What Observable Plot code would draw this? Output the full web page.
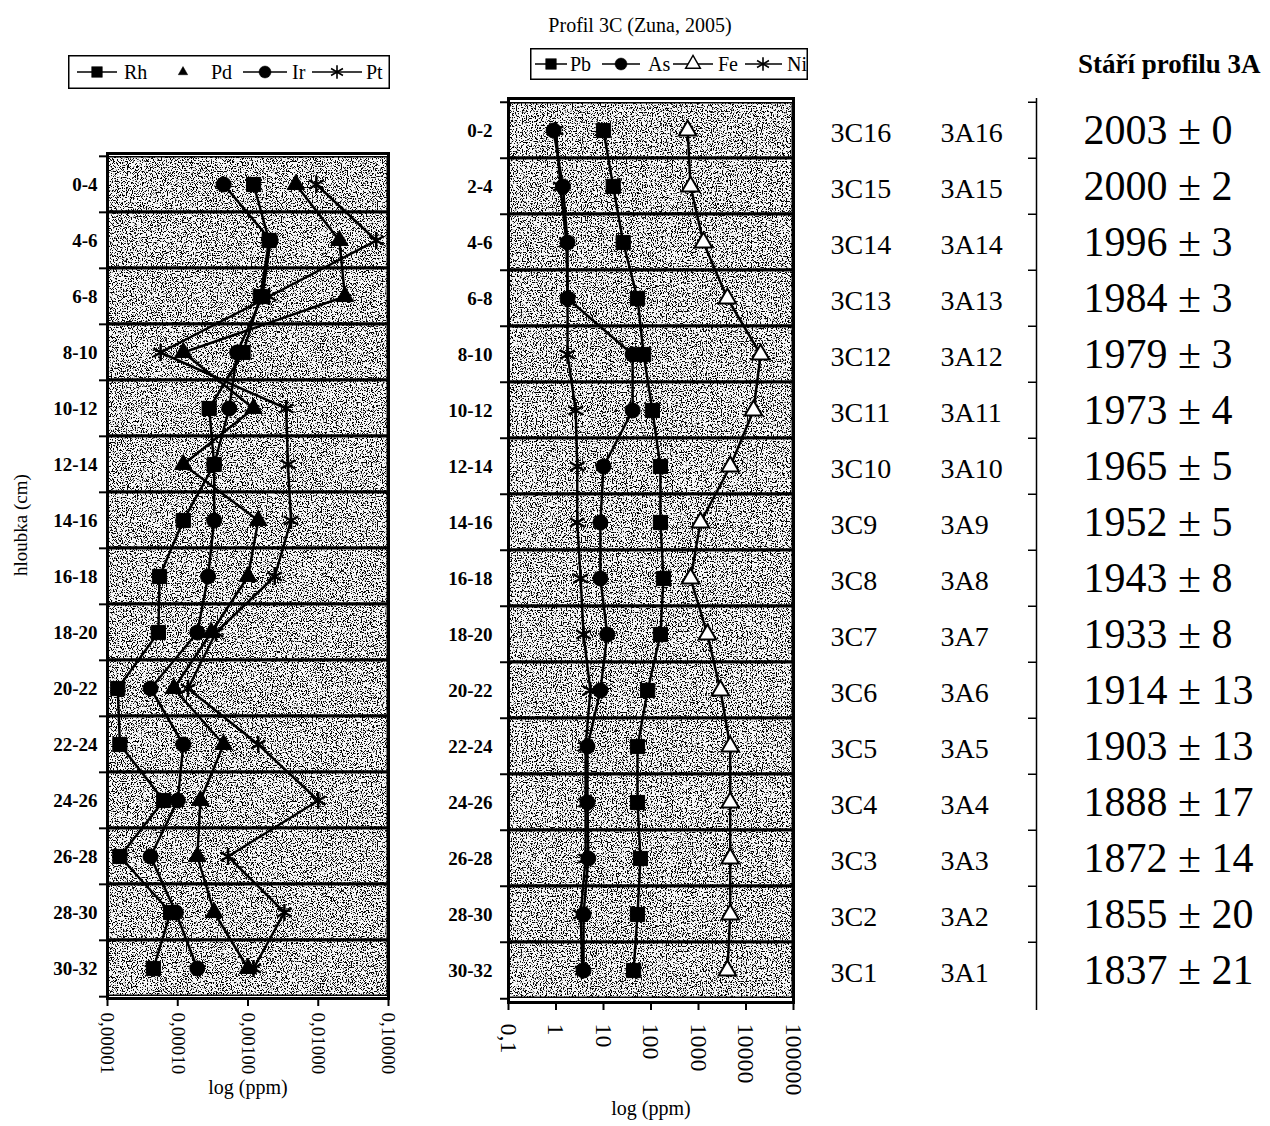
<!DOCTYPE html>
<html><head><meta charset="utf-8">
<script src="https://cdn.jsdelivr.net/npm/d3@7"></script>
<script src="https://cdn.jsdelivr.net/npm/@observablehq/plot@0.6"></script>
<style>
body{margin:0;background:#fff;}
#wrap{position:relative;width:1270px;height:1126px;font-family:"Liberation Serif","Times New Roman",serif;color:#000;overflow:hidden;background:#fff}
</style></head><body><div id="wrap"></div>
<script>
// ---------- data ----------
const depthsLeft = ["0-4","4-6","6-8","8-10","10-12","12-14","14-16","16-18","18-20","20-22","22-24","24-26","26-28","28-30","30-32"];
const seriesLeft = ["Rh","Pd","Ir","Pt"];
const Rh = [1.2e-3, 2.0e-3, 1.5e-3, 8.5e-4, 2.8e-4, 3.3e-4, 1.2e-4, 5.5e-5, 5.3e-5, 1.4e-5, 1.5e-5, 6.3e-5, 1.5e-5, 7.9e-5, 4.5e-5];
const Pd = [4.8e-3, 2.0e-2, 2.4e-2, 1.2e-4, 1.2e-3, 1.2e-4, 1.4e-3, 1.0e-3, 3.0e-4, 8.8e-5, 4.5e-4, 2.1e-4, 1.9e-4, 3.3e-4, 1.0e-3];
const Ir = [4.5e-4, 2.1e-3, 1.6e-3, 7.0e-4, 5.4e-4, 3.3e-4, 3.3e-4, 2.7e-4, 1.9e-4, 4.1e-5, 1.2e-4, 1.0e-4, 4.1e-5, 9.4e-5, 1.9e-4];
const Pt = [9.4e-3, 6.7e-2, 2.0e-3, 5.7e-5, 3.5e-3, 3.7e-3, 4.1e-3, 2.4e-3, 3.5e-4, 1.4e-4, 1.4e-3, 1.0e-2, 5.2e-4, 3.3e-3, 1.2e-3];
const leftTicks = [0.00001, 0.0001, 0.001, 0.01, 0.1];
const leftTickLabels = ["0,00001","0,00010","0,00100","0,01000","0,10000"];

const depthsRight = ["0-2","2-4","4-6","6-8","8-10","10-12","12-14","14-16","16-18","18-20","20-22","22-24","24-26","26-28","28-30","30-32"];
const seriesRight = ["Pb","As","Fe","Ni"];
const Pb = [10, 16, 26, 52, 70, 107, 158, 158, 183, 158, 85, 52, 52, 60, 52, 43];
const As = [0.89, 1.4, 1.75, 1.75, 41, 41, 10, 8.6, 8.6, 12, 8.6, 4.6, 4.6, 4.8, 3.8, 3.8];
const Fe = [590, 680, 1270, 4060, 20300, 14400, 4650, 1100, 680, 1540, 2900, 4650, 4650, 4650, 4650, 4060];
const Ni = [1.0, 1.24, 1.66, 1.75, 1.75, 2.6, 2.8, 2.8, 3.3, 3.8, 5.3, 4.2, 4.2, 4.2, 3.3, 3.6];
const rightTicks = [0.1, 1, 10, 100, 1000, 10000, 100000];
const rightTickLabels = ["0,1","1","10","100","1000","10000","100000"];

const samplesC = ["3C16","3C15","3C14","3C13","3C12","3C11","3C10","3C9","3C8","3C7","3C6","3C5","3C4","3C3","3C2","3C1"];
const samplesA = ["3A16","3A15","3A14","3A13","3A12","3A11","3A10","3A9","3A8","3A7","3A6","3A5","3A4","3A3","3A2","3A1"];
const ages = ["2003 ± 0","2000 ± 2","1996 ± 3","1984 ± 3","1979 ± 3","1973 ± 4","1965 ± 5","1952 ± 5","1943 ± 8","1933 ± 8","1914 ± 13","1903 ± 13","1888 ± 17","1872 ± 14","1855 ± 20","1837 ± 21"];

const titleRight = "Profil 3C (Zuna, 2005)";
const ageTitle = "Stáří profilu 3A";
const xLabel = "log (ppm)";
const yLabel = "hloubka (cm)";

// ---------- helpers ----------
const FONT = "Liberation Serif, Times New Roman, serif";
const W = document.getElementById("wrap");
function place(node, left, top) {
  node.style.position = "absolute";
  node.style.left = left + "px";
  node.style.top = top + "px";
  W.appendChild(node);
}

const rowsLeft = depthsLeft.map((d, i) => ({depth: d, Rh: Rh[i], Pd: Pd[i], Ir: Ir[i], Pt: Pt[i]}));
const rowsRight = depthsRight.map((d, i) => ({depth: d, Pb: Pb[i], As: As[i], Fe: Fe[i], Ni: Ni[i]}));

const styleLeft = {
  Rh: {symbol: "square", r: 8, fill: "#000", sw: 1},
  Pd: {symbol: "triangle", r: 6.5, fill: "#000", sw: 1},
  Ir: {symbol: "circle", r: 7.5, fill: "#000", sw: 1},
  Pt: {symbol: "asterisk", r: 8, fill: "none", sw: 2.5}
};
const styleRight = {
  Pb: {symbol: "square", r: 8, fill: "#000", sw: 1},
  As: {symbol: "circle", r: 7.5, fill: "#000", sw: 1},
  Fe: {symbol: "triangle", r: 6.5, fill: "#fff", sw: 2},
  Ni: {symbol: "asterisk", r: 8, fill: "none", sw: 2.5}
};

function panel(cfg) {
  const {depths, rows, series, styles, domain, ticks, tickLabels, width, mL, mR, mT, mB, tickFont, tickPadX, labelDy, tickPad, id, withYLabel} = cfg;
  const bw = (1126 - mT - mB) / depths.length;
  const marks = [
    Plot.barX(depths, {x1: domain[0], x2: domain[1], y: d => d, fill: "#f7f7f7", stroke: "#000", strokeWidth: 3}),
    Plot.ruleY(depths, {y: d => d, x1: domain[0], x2: domain[0], insetLeft: -8, dy: -bw / 2, strokeWidth: 2}),
    Plot.ruleY(depths.slice(-1), {y: d => d, x1: domain[0], x2: domain[0], insetLeft: -8, dy: bw / 2, strokeWidth: 2})
  ];
  for (const k of series) marks.push(Plot.line(rows, {x: k, y: "depth", stroke: "#000", strokeWidth: 2.5}));
  for (const k of series) {
    const s = styles[k];
    marks.push(Plot.dot(rows, {x: k, y: "depth", symbol: s.symbol, r: s.r, fill: s.fill, stroke: "#000", strokeWidth: s.sw}));
  }
  marks.push(Plot.frame({stroke: "#000", strokeWidth: 3}));
  marks.push(Plot.axisX({ticks, tickFormat: d => tickLabels[ticks.indexOf(d)], tickRotate: 90, tickSize: 8, tickPadding: tickPadX, fontSize: tickFont, label: null, strokeWidth: 2}));
  marks.push(Plot.axisY({tickSize: 0, tickPadding: tickPad, fontSize: 19, fontWeight: "bold", label: null}));
  marks.push(Plot.text([xLabel], {frameAnchor: "bottom", dy: labelDy, fontSize: 20, text: d => d}));
  if (withYLabel) marks.push(Plot.text([yLabel], {frameAnchor: "left", dx: -87, rotate: -90, fontSize: 19, text: d => d}));
  const svg = Plot.plot({
    width, height: 1126, marginLeft: mL, marginRight: mR, marginTop: mT, marginBottom: mB,
    x: {type: "log", domain},
    y: {type: "band", domain: depths, padding: 0},
    style: {fontFamily: FONT, background: "transparent", overflow: "visible", color: "#000"},
    marks
  });
  // scanned speckle texture on the row bands
  const ns = "http://www.w3.org/2000/svg";
  const defs = document.createElementNS(ns, "defs");
  defs.innerHTML = `<filter id="spk${id}" x="0" y="0" width="1" height="1" color-interpolation-filters="sRGB">
    <feTurbulence type="fractalNoise" baseFrequency="0.8" numOctaves="2" seed="${id * 7 + 3}" result="n"/>
    <feColorMatrix in="n" type="matrix" values="0 0 0 0 0  0 0 0 0 0  0 0 0 0 0  14 0 0 0 -7.5" result="d"/>
    <feComposite in="d" in2="SourceGraphic" operator="in" result="dd"/>
    <feMerge><feMergeNode in="SourceGraphic"/><feMergeNode in="dd"/></feMerge></filter>`;
  svg.insertBefore(defs, svg.firstChild);
  const g = svg.querySelector('g[aria-label="bar"]');
  if (g) g.setAttribute("filter", `url(#spk${id})`);
  return svg;
}

// ---------- left panel ----------
place(panel({
  depths: depthsLeft, rows: rowsLeft, series: seriesLeft, styles: styleLeft,
  domain: [leftTicks[0], leftTicks[leftTicks.length - 1]], ticks: leftTicks, tickLabels: leftTickLabels,
  width: 400, mL: 107, mR: 12, mT: 153, mB: 128, tickFont: 19, tickPadX: 6, labelDy: 95, tickPad: 10, id: 1, withYLabel: true
}), 0, 0);

// ---------- right panel ----------
place(panel({
  depths: depthsRight, rows: rowsRight, series: seriesRight, styles: styleRight,
  domain: [rightTicks[0], rightTicks[rightTicks.length - 1]], ticks: rightTicks, tickLabels: rightTickLabels,
  width: 420, mL: 108, mR: 27, mT: 98, mB: 124, tickFont: 24, tickPadX: 13, labelDy: 112, tickPad: 16, id: 2, withYLabel: false
}), 400, 0);

// ---------- sample / age annotations ----------
{
  const mT = 98, mB = 124;
  const bw = (1126 - mT - mB) / depthsRight.length;
  const ann = Plot.plot({
    width: 450, height: 1126, marginLeft: 0, marginRight: 0, marginTop: mT, marginBottom: mB,
    x: {domain: [0, 450], axis: null},
    y: {type: "band", domain: depthsRight, padding: 0, axis: null},
    style: {fontFamily: FONT, background: "transparent", overflow: "visible", color: "#000"},
    marks: [
      Plot.ruleX([216], {insetBottom: -8, strokeWidth: 1.5}),
      Plot.ruleY(depthsRight, {y: d => d, x1: 216, x2: 216, insetLeft: -8, dy: -bw / 2, strokeWidth: 1.5}),
      Plot.text(samplesC, {y: (d, i) => depthsRight[i], frameAnchor: "left", dx: 10, dy: 3, textAnchor: "start", fontSize: 28, text: d => d}),
      Plot.text(samplesA, {y: (d, i) => depthsRight[i], frameAnchor: "left", dx: 120, dy: 3, textAnchor: "start", fontSize: 28, text: d => d}),
      Plot.text(ages, {y: (d, i) => depthsRight[i], frameAnchor: "left", dx: 263, textAnchor: "start", fontSize: 42, text: d => d})
    ]
  });
  place(ann, 820, 0);
}

// ---------- titles ----------
function textDiv(txt, left, top, width, size, weight, align) {
  const d = document.createElement("div");
  d.textContent = txt;
  d.style.width = width + "px";
  d.style.fontSize = size + "px";
  d.style.fontWeight = weight;
  d.style.textAlign = align;
  d.style.lineHeight = "1.2";
  d.style.whiteSpace = "nowrap";
  place(d, left, top);
}
textDiv(titleRight, 540, 13, 200, 20, "normal", "center");
textDiv(ageTitle, 1078, 48, 192, 27, "bold", "left");

// ---------- legends ----------
const symbolType = {square: d3.symbolSquare, circle: d3.symbolCircle, triangle: d3.symbolTriangle, asterisk: d3.symbolAsterisk};
function legend(box, items, styles) {
  const svg = d3.create("svg").attr("width", box.w).attr("height", box.h).style("overflow", "visible");
  svg.append("rect").attr("x", 0.75).attr("y", 0.75).attr("width", box.w - 1.5).attr("height", box.h - 1.5)
    .attr("fill", "#fff").attr("stroke", "#000").attr("stroke-width", 1.5);
  const cy = box.h / 2;
  for (const it of items) {
    const s = styles[it.key];
    if (it.line) svg.append("line").attr("x1", it.l0 - box.x).attr("x2", it.l1 - box.x).attr("y1", cy).attr("y2", cy)
      .attr("stroke", "#000").attr("stroke-width", 1.5);
    const size = Math.PI * (it.r) * (it.r);
    svg.append("path").attr("transform", `translate(${it.sx - box.x},${cy})`)
      .attr("d", d3.symbol(symbolType[s.symbol], size)())
      .attr("fill", s.fill).attr("stroke", "#000").attr("stroke-width", s.symbol === "asterisk" ? 1.6 : (s.fill === "#fff" ? 1.4 : 0.5));
    svg.append("text").attr("x", it.tx - box.x).attr("y", cy).attr("dy", "0.35em")
      .attr("font-size", 20).attr("font-family", FONT).text(it.key);
  }
  place(svg.node(), box.x, box.y);
}
legend({x: 68, y: 55, w: 322, h: 34}, [
  {key: seriesLeft[0], line: true, l0: 77, l1: 117, sx: 97, r: 6, tx: 124},
  {key: seriesLeft[1], line: false, sx: 183, r: 3.5, tx: 211},
  {key: seriesLeft[2], line: true, l0: 243, l1: 287, sx: 265, r: 6, tx: 292},
  {key: seriesLeft[3], line: true, l0: 312, l1: 362, sx: 337, r: 6.5, tx: 366}
], styleLeft);
legend({x: 530, y: 48, w: 278, h: 32}, [
  {key: seriesRight[0], line: true, l0: 535, l1: 567, sx: 551, r: 6, tx: 570},
  {key: seriesRight[1], line: true, l0: 602, l1: 640, sx: 621, r: 6, tx: 648},
  {key: seriesRight[2], line: true, l0: 673, l1: 713, sx: 693, r: 5.5, tx: 718},
  {key: seriesRight[3], line: true, l0: 745, l1: 782, sx: 763, r: 6.5, tx: 787}
], styleRight);
</script></body></html>
